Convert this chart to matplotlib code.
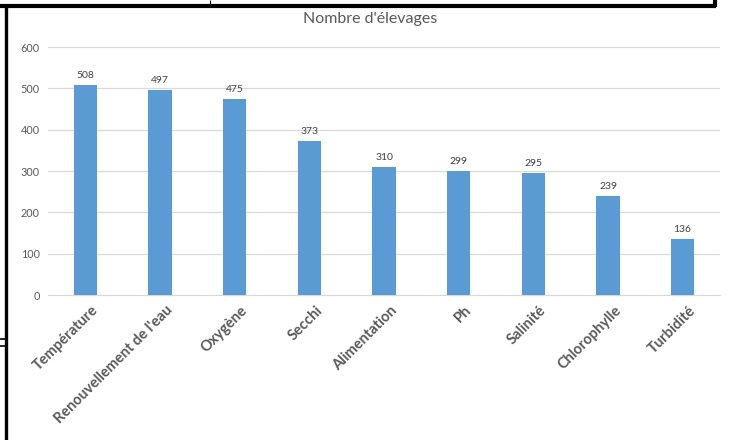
import matplotlib.pyplot as plt
from matplotlib.lines import Line2D
from matplotlib.transforms import ScaledTranslation

categories = ['Température', "Renouvellement de l'eau", 'Oxygène', 'Secchi',
              'Alimentation', 'Ph', 'Salinité', 'Chlorophylle', 'Turbidité']
counts = [508, 497, 475, 373, 310, 299, 295, 239, 136]
y_ticks = [0, 100, 200, 300, 400, 500, 600]

W, H = 731, 440
plt.rcParams['font.family'] = ['Lato', 'DejaVu Sans']

fig = plt.figure(figsize=(W / 100, H / 100), dpi=100)
ax = fig.add_axes([48 / W, 1 - 295 / H, (720 - 48) / W, (295 - 47) / H])

x = range(len(categories))
bars = ax.bar(x, counts, width=0.31, color='#5B9BD5', zorder=3)
for b, v in zip(bars, counts):
    ax.text(b.get_x() + b.get_width() / 2, v + 12, str(v), ha='center', va='bottom',
            fontsize=7.5, color='#404040')

ax.set_xlim(-0.5, len(categories) - 0.5)
ax.set_ylim(0, 600)
ax.set_yticks(y_ticks)
ax.set_yticklabels([str(t) for t in y_ticks], fontsize=7.8, color='#595959')
ax.yaxis.grid(True, color='#D9D9D9', linewidth=0.9, zorder=0)
ax.set_xticks(list(x))
ax.set_xticklabels(categories, rotation=45, ha='right', va='top', rotation_mode='anchor',
                   fontsize=10.5, fontweight='bold', color='#595959')
ax.tick_params(axis='both', length=0, pad=6)
ax.tick_params(axis='x', pad=6)
shift = ScaledTranslation(6 / 100, 0, fig.dpi_scale_trans)
for lbl in ax.get_xticklabels():
    lbl.set_transform(lbl.get_transform() + shift)
for side in ['top', 'right', 'left']:
    ax.spines[side].set_visible(False)
ax.spines['bottom'].set_color('#D9D9D9')

fig.text(370 / W, 1 - 19 / H, "Nombre d'élevages", ha='center', va='center',
         fontsize=11.5, color='#595959')

# window border lines around the chart
def px_line(x0, y0, x1, y1, lw):
    fig.add_artist(Line2D([x0 / W, x1 / W], [1 - y0 / H, 1 - y1 / H],
                          transform=fig.transFigure, color='black', linewidth=lw,
                          solid_capstyle='butt'))

px_line(0, 6, 716, 6, 3.0)
px_line(714.5, 0, 714.5, 7.5, 3.0)
px_line(5.5, 4.5, 5.5, 440, 2.4)
px_line(210, 0, 210, 4, 0.8)
px_line(0, 339, 5, 339, 1.2)
px_line(0, 346, 5, 346, 1.2)

fig.savefig('out.png', dpi=100, facecolor='white')
